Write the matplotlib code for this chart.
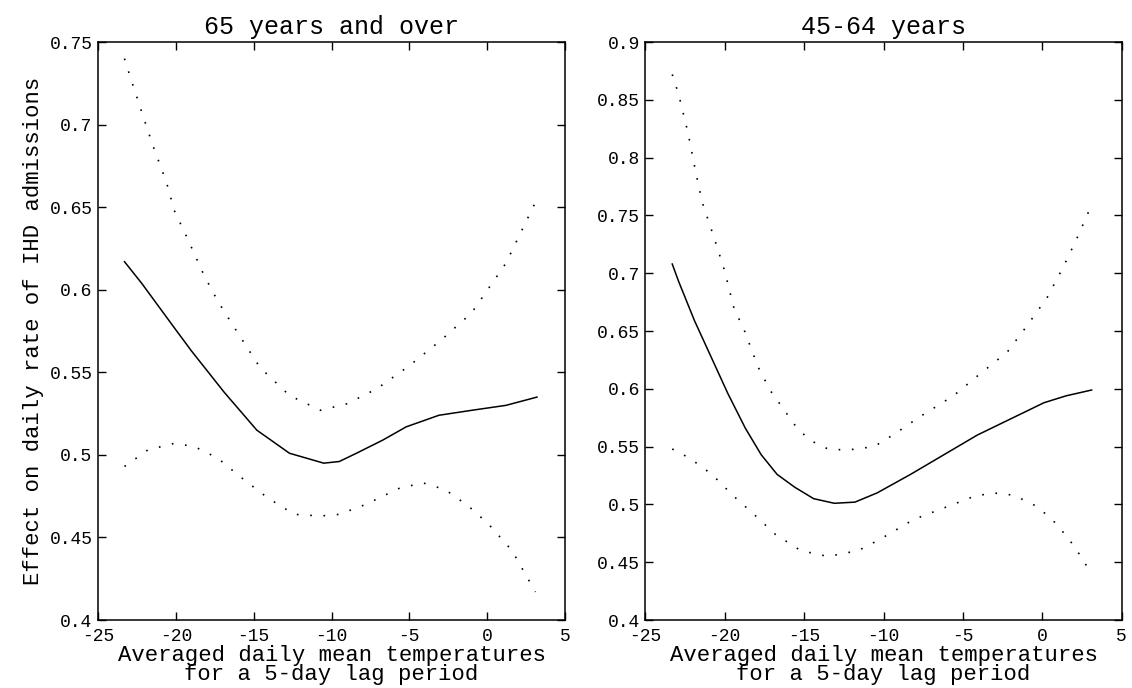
import matplotlib
matplotlib.use("Agg")
import matplotlib.pyplot as plt
from matplotlib.ticker import FormatStrFormatter

# values
# 65 years and over
old_fit_x = [-23.3, -22.2, -20.1, -19.0, -16.9, -14.8, -12.7, -10.5, -9.5, -8.4,
             -6.7, -5.2, -3.1, -1.0, 1.2, 3.2]
old_fit_y = [0.617, 0.604, 0.577, 0.563, 0.538, 0.515, 0.501, 0.495, 0.496, 0.501,
             0.509, 0.517, 0.524, 0.527, 0.530, 0.535]
old_hi_x = [-23.3, -22.9, -22.1, -21.5, -20.6, -20.1, -19.3, -18.2, -17.3, -16.3,
            -14.6, -12.7, -10.7, -9.0, -7.1, -5.0, -2.9, -1.0, 1.2, 3.1]
old_hi_y = [0.740, 0.728, 0.705, 0.688, 0.665, 0.648, 0.632, 0.609, 0.593, 0.578,
            0.553, 0.536, 0.527, 0.531, 0.540, 0.554, 0.570, 0.586, 0.616, 0.653]
old_lo_x = [-23.3, -21.8, -20.1, -18.8, -17.3, -15.9, -14.1, -12.4, -10.7, -9.5,
            -7.8, -5.6, -4.1, -2.7, -1.2, 0.1, 1.6, 3.1]
old_lo_y = [0.493, 0.503, 0.507, 0.505, 0.498, 0.487, 0.474, 0.464, 0.463, 0.464,
            0.470, 0.480, 0.483, 0.479, 0.469, 0.458, 0.442, 0.417]

# 45-64 years
mid_fit_x = [-23.3, -22.9, -21.9, -20.8, -19.8, -18.7, -17.7, -16.7, -15.6, -14.4,
             -13.1, -11.8, -10.4, -8.3, -6.2, -4.1, -2.0, 0.1, 1.5, 3.1]
mid_fit_y = [0.708, 0.693, 0.659, 0.626, 0.596, 0.566, 0.543, 0.526, 0.515, 0.505,
             0.501, 0.502, 0.510, 0.526, 0.543, 0.560, 0.574, 0.588, 0.594, 0.599]
mid_hi_x = [-23.3, -22.9, -22.3, -21.8, -21.4, -20.6, -20.0, -19.4, -18.8, -17.9,
            -17.1, -15.6, -14.7, -13.5, -12.3, -10.6, -9.3, -7.7, -5.6, -4.1,
            -2.2, -1.0, 0.3, 1.3, 2.2, 2.9]
mid_hi_y = [0.872, 0.855, 0.821, 0.786, 0.761, 0.728, 0.702, 0.669, 0.652, 0.619,
            0.598, 0.569, 0.556, 0.548, 0.547, 0.550, 0.561, 0.576, 0.594, 0.611,
            0.632, 0.654, 0.679, 0.705, 0.731, 0.753]
mid_lo_x = [-23.3, -22.2, -20.8, -19.5, -18.2, -16.8, -15.2, -13.5, -11.6, -10.2,
            -8.1, -6.0, -4.3, -3.1, -1.8, -0.3, 0.9, 2.0, 3.1]
mid_lo_y = [0.548, 0.540, 0.526, 0.508, 0.492, 0.474, 0.460, 0.455, 0.460, 0.470,
            0.487, 0.498, 0.507, 0.510, 0.508, 0.498, 0.483, 0.464, 0.440]

xticks = [-25, -20, -15, -10, -5, 0, 5]
old_yticks = [0.4, 0.45, 0.5, 0.55, 0.6, 0.65, 0.7, 0.75]
mid_yticks = [0.4, 0.45, 0.5, 0.55, 0.6, 0.65, 0.7, 0.75, 0.8, 0.85, 0.9]

plt.rcParams['font.family'] = ['Liberation Mono', 'DejaVu Sans Mono']
plt.rcParams['axes.unicode_minus'] = False

fig = plt.figure(figsize=(11.32, 6.88), dpi=100)
ax1 = fig.add_axes([0.0866, 0.0988, 0.4125, 0.840])
ax2 = fig.add_axes([0.5700, 0.0988, 0.4210, 0.840])

xlab = 'Averaged daily mean temperatures\nfor a 5-day lag period'

panels = [
    (ax1, '65 years and over', old_fit_x, old_fit_y, old_hi_x, old_hi_y,
     old_lo_x, old_lo_y, old_yticks),
    (ax2, '45-64 years', mid_fit_x, mid_fit_y, mid_hi_x, mid_hi_y,
     mid_lo_x, mid_lo_y, mid_yticks),
]

for ax, title, fx, fy, hx, hy, lx, ly, yt in panels:
    ax.plot(fx, fy, color='black', lw=1.1)
    ax.plot(hx, hy, color='black', lw=1.2, ls=(0, (1, 7)))
    ax.plot(lx, ly, color='black', lw=1.2, ls=(0, (1, 7)))
    ax.set_xlim(-25, 5)
    ax.set_ylim(yt[0], yt[-1])
    ax.set_xticks(xticks)
    ax.set_yticks(yt)
    ax.yaxis.set_major_formatter(FormatStrFormatter('%g'))
    ax.tick_params(direction='in', top=True, right=True, length=6,
                   width=1, labelsize=13)
    ax.tick_params(axis='x', pad=6)
    ax.tick_params(axis='y', pad=4)
    for s in ax.spines.values():
        s.set_linewidth(1.1)
    ax.set_title(title, fontsize=18, pad=6)
    ax.set_xlabel(xlab, fontsize=16, labelpad=0, linespacing=0.85)

ax1.set_ylabel('Effect on daily rate of IHD admissions', fontsize=16, labelpad=4)

fig.savefig('out.png', dpi=100)
